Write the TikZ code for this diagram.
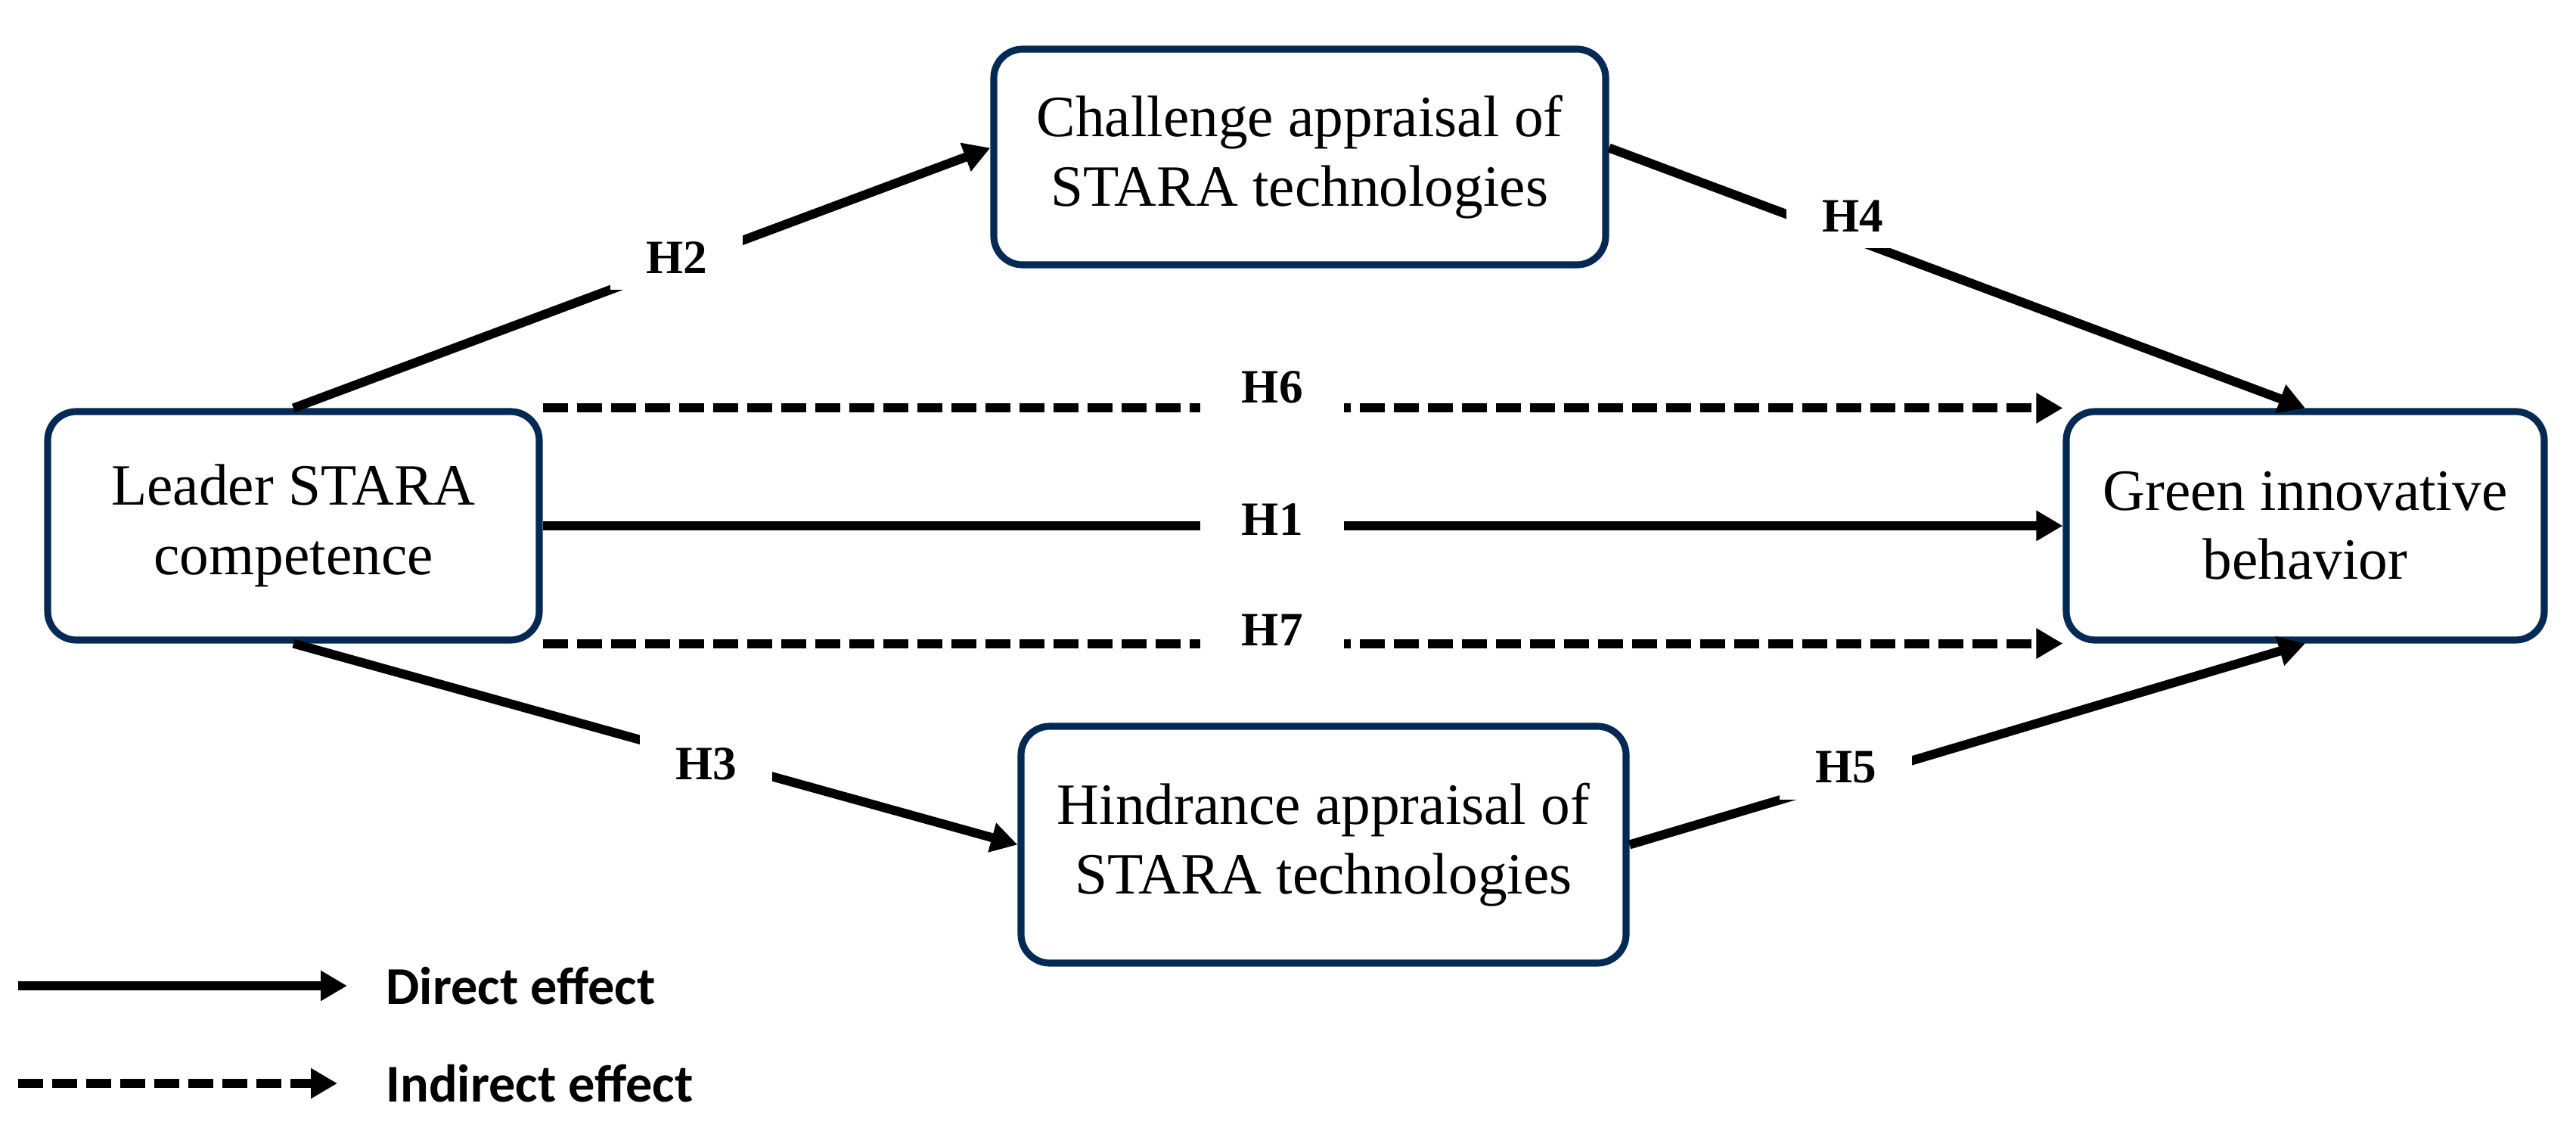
\documentclass[tikz,border=0pt]{standalone}
\usepackage{fontspec}
\setmainfont{Liberation Serif}
\newfontfamily\legfont{Carlito}
\usetikzlibrary{arrows.meta,positioning}
\definecolor{boxblue}{RGB}{4,42,84}

\begin{document}
\begin{tikzpicture}[
    box/.style={draw=boxblue, line width=2.6pt, rounded corners=0.38cm, fill=white,
        align=center, font=\fontsize{22}{26}\selectfont},
    direct/.style={line width=3.4pt, -{Triangle[length=0.35cm,width=0.38cm]}},
    indirect/.style={direct, dash pattern=on 0.33cm off 0.12cm},
    hlab/.style={fill=white, inner sep=0pt, minimum width=1.75cm, minimum height=0.85cm,
        font=\fontsize{18}{18}\selectfont\bfseries},
    legtxt/.style={font=\legfont\bfseries\fontsize{20}{20}\selectfont, anchor=west, inner sep=0pt}
]
\useasboundingbox (0,0) rectangle (34.06,14.86);

% variables du modele
\node[box, minimum width=6.50cm, minimum height=3.02cm] (leader) at (3.88,7.91) {Leader STARA\\competence};
\node[box, minimum width=6.32cm, minimum height=3.02cm] (green) at (30.48,7.91) {Green innovative\\behavior};
\node[box, minimum width=8.09cm, minimum height=2.85cm] (chal) at (17.185,12.785) {Challenge appraisal of\\STARA technologies};
\node[box, minimum width=8.0cm, minimum height=3.13cm] (hind) at (17.5,3.695) {Hindrance appraisal of\\STARA technologies};

% effets directs
\draw[direct] (leader.east) -- (green.west) node[hlab, minimum width=1.9cm, pos=0.48, yshift=0.08cm] {H1};
\draw[direct] (leader.north) -- ([yshift=0.12cm]chal.west) node[hlab, pos=0.55, yshift=0.1cm] {H2};
\draw[direct] (leader.south) -- (hind.west) node[hlab, pos=0.57, yshift=-0.08cm] {H3};
\draw[direct] ([yshift=0.12cm]chal.east) -- (green.north) node[hlab, pos=0.35, yshift=0.3cm] {H4};
\draw[direct] (hind.east) -- (green.south) node[hlab, pos=0.32, yshift=0.17cm] {H5};

% effets indirects
\draw[indirect] (leader.north east) -- (green.north west) node[hlab, minimum width=1.9cm, pos=0.48, yshift=0.28cm] {H6};
\draw[indirect] (leader.south east) -- (green.south west) node[hlab, minimum width=1.9cm, pos=0.48, yshift=0.18cm] {H7};

% legende
\node[legtxt] (dirtxt) at (5.10,1.83) {Direct effect};
\node[legtxt] (indtxt) at (5.10,0.54) {Indirect effect};
\coordinate (dir0) at (0.24,1.83);
\coordinate (ind0) at (0.24,0.54);
\draw[direct] (dir0) -- ([xshift=-0.51cm]dirtxt.west);
\draw[indirect] (ind0) -- ([xshift=-0.64cm]indtxt.west);

\end{tikzpicture}
\end{document}
